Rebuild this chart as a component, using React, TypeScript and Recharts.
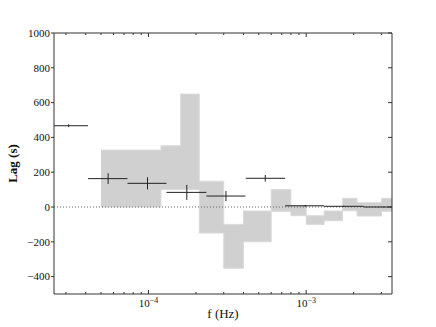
import React from "react";
import {
  ComposedChart,
  Area,
  Scatter,
  ErrorBar,
  XAxis,
  YAxis,
  ReferenceLine,
} from "recharts";

// shaded band: bin left edges (Hz) with lower / upper lag (s)
const bandEdges = [5e-5, 1.2e-4, 1.6e-4, 2.1e-4, 3e-4, 4e-4, 6e-4, 8e-4, 1e-3, 1.3e-3, 1.7e-3, 2.1e-3, 3e-3, 4e-3];
const bandLow = [0, 100, 100, -150, -352, -200, -25, -50, -100, -79, -22, -52, -25, -25];
const bandHigh = [327, 352, 649, 148, -100, -23, 100, 8, -50, -23, 50, 25, 50, 50];

// measured lags
const freq = [3.12e-5, 5.55e-5, 9.86e-5, 1.75e-4, 3.1e-4, 5.5e-4, 9.87e-4, 1.73e-3, 3.09e-3];
const freqLow = [2.33e-5, 4.14e-5, 7.36e-5, 1.3e-4, 2.33e-4, 4.14e-4, 7.36e-4, 1.3e-3, 2.32e-3];
const freqHigh = [4.14e-5, 7.36e-5, 1.3e-4, 2.33e-4, 4.12e-4, 7.36e-4, 1.3e-3, 2.32e-3, 4.11e-3];
const lag = [467, 163, 136, 84, 63, 165, 7, 4, 0];
const lagErr = [8, 31, 35, 43, 29, 19, 5, 3, 2];

const xDomain = [2.518e-5, 3.5e-3];
const xTicks = [3e-5, 4e-5, 5e-5, 6e-5, 7e-5, 8e-5, 9e-5, 1e-4, 2e-4, 3e-4, 4e-4, 5e-4, 6e-4, 7e-4, 8e-4, 9e-4, 1e-3, 2e-3, 3e-3];
const majorTicks: Record<number, string> = { 1e-4: "\u22124", 1e-3: "\u22123" };
const yTicks = [-400, -200, 0, 200, 400, 600, 800, 1000];

const FONT = "'Liberation Serif', 'Times New Roman', serif";
const AXIS = "#333";

const bandData = bandEdges.map((f, i) => ({ f, band: [bandLow[i], bandHigh[i]] }));
// horizontal bars are cut at the plot edges like the frame does
const pointData = freq.map((f, i) => ({
  f,
  lag: lag[i],
  xErr: [f - Math.max(freqLow[i], xDomain[0]), Math.min(freqHigh[i], xDomain[1]) - f],
  yErr: lagErr[i],
}));

function BottomTick(props: any) {
  const { x, y, payload } = props;
  const sup = majorTicks[payload.value];
  const len = sup ? 4 : 2;
  return (
    <g>
      <line x1={x} y1={y} x2={x} y2={y - len} stroke={AXIS} strokeWidth={1} />
      {sup && (
        <text x={x} y={y + 13} textAnchor="middle" fontFamily={FONT} fontSize={11} fill="#111">
          10
          <tspan dy={-4} fontSize={8}>
            {sup}
          </tspan>
        </text>
      )}
    </g>
  );
}

function TopTick(props: any) {
  const { x, y, payload } = props;
  const len = majorTicks[payload.value] ? 4 : 2;
  return <line x1={x} y1={y} x2={x} y2={y + len} stroke={AXIS} strokeWidth={1} />;
}

function LeftTick(props: any) {
  const { x, y, payload } = props;
  const v = payload.value as number;
  return (
    <text x={x} y={y} dy="0.35em" textAnchor="end" fontFamily={FONT} fontSize={11} fill="#111">
      {v < 0 ? `\u2212${-v}` : `${v}`}
    </text>
  );
}

function RightTick(props: any) {
  const { x, y } = props;
  return <line x1={x} y1={y} x2={x - 4} y2={y} stroke={AXIS} strokeWidth={1} />;
}

export default function App() {
  return (
    <div style={{ position: "absolute", left: 0, top: 0, width: 436, height: 327, background: "#fff" }}>
      <ComposedChart width={436} height={327} margin={{ top: 32, right: 43, bottom: 0, left: 0 }}>
        <XAxis
          dataKey="f"
          type="number"
          scale="log"
          domain={xDomain}
          allowDataOverflow
          ticks={xTicks}
          interval={0}
          height={33}
          tickSize={0}
          tickMargin={0}
          tickLine={false}
          tick={<BottomTick />}
          axisLine={{ stroke: AXIS, strokeWidth: 1 }}
          label={{
            content: (p: any) => (
              <text
                x={p.viewBox.x + p.viewBox.width / 2}
                y={p.viewBox.y + 24}
                textAnchor="middle"
                fontFamily={FONT}
                fontSize={13}
                fill="#111"
              >
                f (Hz)
              </text>
            ),
          }}
        />
        <XAxis
          xAxisId="top"
          orientation="top"
          dataKey="f"
          type="number"
          scale="log"
          domain={xDomain}
          allowDataOverflow
          ticks={xTicks}
          interval={0}
          height={1}
          tickSize={0}
          tickMargin={0}
          tickLine={false}
          tick={<TopTick />}
          axisLine={{ stroke: AXIS, strokeWidth: 1 }}
        />
        <YAxis
          type="number"
          domain={[-500, 1000]}
          allowDataOverflow
          ticks={yTicks}
          interval={0}
          width={54}
          tickSize={3}
          tickMargin={1}
          tickLine={{ stroke: AXIS }}
          axisLine={{ stroke: AXIS, strokeWidth: 1 }}
          tick={<LeftTick />}
          label={{
            content: (p: any) => {
              const cx = 17;
              const cy = p.viewBox.y + p.viewBox.height / 2;
              return (
                <text
                  x={cx}
                  y={cy}
                  transform={`rotate(-90, ${cx}, ${cy})`}
                  textAnchor="middle"
                  fontFamily={FONT}
                  fontSize={13}
                  fontWeight="bold"
                  fill="#111"
                >
                  Lag (s)
                </text>
              );
            },
          }}
        />
        <YAxis
          yAxisId="right"
          orientation="right"
          type="number"
          domain={[-500, 1000]}
          allowDataOverflow
          ticks={yTicks}
          interval={0}
          width={1}
          tickSize={0}
          tickMargin={0}
          tickLine={false}
          tick={<RightTick />}
          axisLine={{ stroke: AXIS, strokeWidth: 1 }}
        />
        <Area
          data={bandData}
          dataKey="band"
          type="stepAfter"
          fill="#d0d0d0"
          fillOpacity={1}
          stroke="#dadada"
          strokeWidth={1}
          isAnimationActive={false}
        />
        <ReferenceLine y={0} stroke="#666" strokeDasharray="1 2" strokeWidth={1} />
        <Scatter data={pointData} dataKey="lag" shape={() => <g />} isAnimationActive={false}>
          <ErrorBar dataKey="xErr" direction="x" width={0} stroke="#222" strokeWidth={1} />
          <ErrorBar dataKey="yErr" direction="y" width={0} stroke="#222" strokeWidth={1} />
        </Scatter>
        {/* keeps the top / right frame axes attached to a series */}
        <Scatter
          xAxisId="top"
          yAxisId="right"
          data={pointData}
          dataKey="lag"
          shape={() => <g />}
          isAnimationActive={false}
        />
      </ComposedChart>
    </div>
  );
}
